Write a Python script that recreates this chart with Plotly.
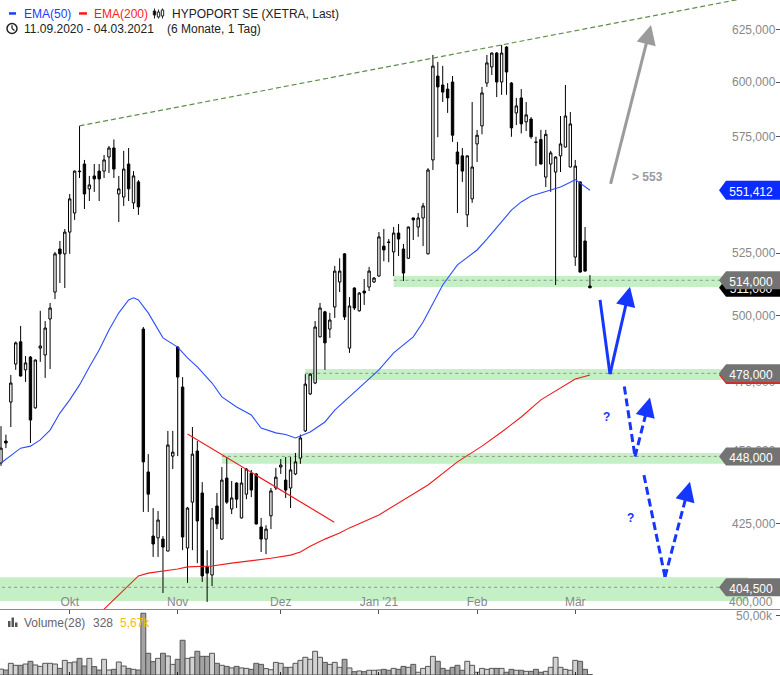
import math
import plotly.graph_objects as go

# ---------------- data ----------------
month_pos = [14, 36, 57, 77, 97, 117]
month_labels = ["Okt", "Nov", "Dez", "Jan '21", "Feb", "Mär"]

opens = [445.7, 453.4, 467.4, 481.5, 489.9, 479.3, 484.1, 465.3, 487.5, 484.9,
         498.7, 509.3, 526.7, 524.7, 533.7, 541.7, 559.7, 562.8, 552.0, 557.6,
         559.7, 559.7, 565.9, 569.9, 549.8, 548.5, 562.8, 546.0, 555.0, 494.8,
         442.6, 421.0, 420.4, 420.0, 416.1, 448.1, 487.9, 472.9, 417.1, 432.3,
         449.9, 435.4, 411.0, 408.4, 431.0, 420.0, 440.5, 430.0, 438.8, 427.0,
         435.0, 442.2, 441.9, 424.0, 420.0, 427.7, 437.1, 444.3, 439.8, 437.1,
         441.9, 447.4, 457.0, 470.4, 474.4, 491.8, 501.5, 494.8, 503.4, 513.3,
         524.7, 487.5, 510.9, 501.9, 509.7, 511.3, 513.3, 515.7, 527.9, 529.6,
         525.5, 533.3, 526.7, 522.9, 539.6, 535.8, 539.6, 524.7, 564.6, 602.8,
         598.6, 596.7, 600.0, 568.1, 566.4, 540.9, 547.7, 571.7, 579.8, 599.5,
         607.1, 613.7, 600.0, 616.6, 599.5, 585.7, 592.6, 581.6, 582.9, 572.6,
         573.7, 557.1, 562.8, 559.3, 566.4, 570.3, 561.5, 523.4, 555.0, 530.0,
         511.7]
highs = [458.7, 455.7, 477.4, 490.0, 496.0, 484.5, 484.5, 483.2, 501.9, 497.9,
         505.0, 525.5, 530.0, 535.0, 549.8, 560.0, 579.8, 564.6, 557.6, 562.8,
         562.8, 566.8, 570.8, 573.7, 557.6, 568.6, 569.9, 559.7, 555.8, 495.6,
         448.8, 430.3, 429.3, 421.0, 457.0, 457.0, 488.3, 476.6, 430.7, 458.4,
         453.4, 439.1, 416.4, 430.3, 435.4, 444.3, 447.8, 439.5, 439.0, 444.0,
         444.0, 443.3, 442.2, 427.0, 424.6, 437.1, 444.0, 447.1, 447.8, 447.8,
         449.2, 455.7, 477.7, 478.0, 497.9, 505.0, 501.9, 501.1, 519.8, 522.9,
         525.0, 507.3, 511.2, 509.3, 514.5, 519.4, 515.3, 533.7, 535.0, 530.8,
         535.8, 537.1, 528.8, 536.0, 539.8, 541.7, 546.0, 561.0, 612.8, 609.5,
         607.6, 599.5, 602.8, 572.6, 569.9, 566.6, 590.7, 578.0, 597.7, 612.8,
         614.0, 614.2, 617.6, 617.0, 600.0, 592.6, 596.7, 590.7, 583.8, 574.9,
         578.0, 578.0, 568.6, 566.2, 584.3, 598.6, 586.1, 564.6, 555.2, 535.8,
         516.1]
lows = [444.7, 450.9, 458.4, 479.3, 476.8, 474.8, 452.7, 465.0, 482.3, 476.3,
        479.6, 506.5, 512.9, 510.9, 524.7, 538.8, 556.7, 543.4, 546.8, 550.7,
        546.8, 556.7, 558.9, 556.7, 537.9, 544.7, 546.8, 543.4, 540.9, 429.0,
        429.0, 414.2, 414.2, 402.7, 416.1, 443.6, 448.1, 416.4, 405.9, 416.4,
        412.2, 406.2, 399.9, 404.9, 423.3, 419.8, 431.7, 428.3, 430.3, 426.8,
        433.3, 434.0, 424.8, 415.8, 415.1, 423.3, 436.4, 441.9, 433.7, 430.3,
        441.5, 445.4, 456.6, 470.0, 474.0, 491.6, 479.3, 491.4, 499.1, 509.3,
        498.3, 485.7, 502.2, 501.6, 504.2, 509.7, 512.9, 515.5, 521.7, 521.3,
        515.7, 523.8, 513.7, 522.7, 530.4, 531.7, 527.9, 524.5, 560.2, 574.7,
        590.7, 585.7, 572.6, 541.7, 555.0, 535.8, 546.0, 563.7, 576.0, 597.7,
        603.3, 593.0, 594.0, 594.0, 574.9, 580.2, 576.4, 577.5, 574.0, 561.9,
        562.6, 552.8, 550.7, 512.1, 559.3, 570.1, 561.3, 519.8, 517.1, 517.5,
        510.8]
closes = [450.9, 452.7, 474.4, 489.5, 477.0, 481.9, 460.9, 483.0, 488.3, 495.2,
          503.0, 524.7, 524.7, 533.7, 547.7, 559.7, 559.5, 549.8, 553.7, 556.3,
          556.3, 564.6, 569.9, 560.6, 552.0, 560.6, 552.0, 557.6, 544.3, 446.1,
          435.0, 418.4, 426.3, 417.4, 452.0, 449.5, 476.6, 420.7, 430.3, 448.8,
          426.0, 408.1, 409.0, 427.0, 425.0, 439.8, 432.3, 433.7, 433.3, 438.8,
          443.6, 436.4, 425.0, 420.0, 423.3, 436.1, 440.8, 445.0, 436.4, 443.3,
          446.1, 454.5, 474.0, 477.7, 495.6, 503.0, 489.5, 498.3, 517.7, 517.7,
          499.5, 503.8, 503.0, 508.9, 508.9, 517.7, 514.9, 531.7, 526.3, 529.4,
          533.3, 530.8, 516.9, 535.8, 538.8, 539.6, 544.7, 560.2, 607.5, 597.7,
          595.3, 592.6, 575.6, 562.8, 559.7, 566.4, 561.5, 575.6, 594.9, 609.0,
          613.7, 600.0, 613.7, 604.7, 578.9, 588.9, 580.7, 584.8, 574.9, 572.4,
          562.8, 576.0, 567.7, 565.9, 571.7, 584.3, 580.7, 561.9, 517.3, 517.7,
          511.0]
volumes = [5000, 4200, 9900, 8200, 8200, 9300, 11600, 8500, 7300, 9900,
           9900, 9300, 5600, 12400, 10400, 11000, 14100, 7600, 14100, 7100,
           4200, 13300, 4200, 4800, 11000, 7600, 5600, 4800, 4200, 52300,
           18400, 11300, 14100, 18400, 16100, 9000, 13300, 29400, 14100, 15000,
           20100, 15800, 15800, 18400, 9900, 8200, 7300, 6000, 7300, 6000,
           5600, 4800, 9900, 9000, 5400, 4500, 10700, 9900, 6500, 6500,
           9900, 12400, 15000, 13300, 20100, 15000, 10700, 9000, 10700, 6500,
           13300, 6000, 2800, 3400, 2800, 4000, 4000, 4200, 4800, 4000,
           5600, 4800, 7300, 6500, 9000, 2300, 5600, 7300, 15800, 11600,
           5600, 4000, 6500, 8200, 4000, 11600, 8200, 2300, 5600, 4800,
           5600, 5600, 5600, 2300, 4800, 4000, 4000, 3100, 3100, 4800,
           2300, 3100, 6500, 15000, 6500, 4800, 4000, 12400, 11600, 4800,
           328]

ema50_idx = [0, 4, 6, 8, 10, 12, 14, 16, 18, 20, 22, 24, 26, 27, 28, 30, 33, 36, 38,
             40, 43, 45, 48, 51, 53, 56, 58, 60, 63, 66, 68, 71, 77, 80, 82, 84, 86,
             88, 90, 93, 97, 99, 102, 104, 106, 108, 110, 112, 114, 116, 117, 118,
             119, 120]
ema50_val = [445.7, 450.9, 451.6, 453.8, 457.3, 463.4, 468.2, 473.7, 480.4, 486.8,
             494.4, 501.1, 506.2, 507.0, 506.2, 501.1, 491.4, 487.9, 483.8, 480.4,
             474.4, 469.3, 465.6, 462.7, 458.0, 456.3, 455.7, 454.5, 456.6, 460.2,
             464.5, 469.3, 479.3, 485.7, 488.7, 491.8, 497.5, 505.0, 512.1, 520.2,
             526.3, 530.8, 537.9, 542.9, 546.4, 548.9, 550.2, 551.5, 552.8, 554.9,
             556.0, 554.5, 553.0, 551.412]
ema200_idx = [20, 21, 24, 26, 28, 30, 36, 38, 43, 47, 51, 55, 59, 61, 63, 66, 69, 71,
              77, 81, 87, 93, 98, 102, 106, 110, 114, 117, 120]
ema200_val = [396.2, 397.7, 402.1, 405.2, 408.1, 409.0, 410.3, 411.0, 411.3, 412.2,
              412.9, 413.8, 414.8, 415.8, 417.7, 420.0, 422.0, 423.7, 428.0, 432.0,
              438.1, 446.1, 451.6, 456.6, 462.0, 468.2, 472.6, 475.9, 477.4]

price_ticks = [400, 425, 450, 475, 500, 525, 550, 575, 600, 625]
volume_ticks = [50000]
volume_tick_labels = ["50,00k"]
level_values = [514.0, 478.0, 448.0, 404.5]
level_labels = ["514,000", "478,000", "448,000", "404,500"]
band_lo = [511.3, 475.5, 445.4, 400.2]
band_hi = [515.7, 479.6, 449.2, 407.7]
band_start = [80, 62, 45, -1]

last_close = 511.0
last_ema50 = 551.412
last_ema200 = 477.4

green_trend_idx = [16, 150]
green_trend_val = [579.8, 639.8]
red_trend_idx = [38.0, 67.9]
red_trend_val = [455.9, 425.6]

solid_path_idx = [122.05, 124.08, 128.16]
solid_path_val = [506.2, 477.7, 511.4]
dash1_path_idx = [127.0, 129.18, 132.23]
dash1_path_val = [473.1, 447.9, 469.1]
dash2_path_idx = [131.0, 135.29, 140.38]
dash2_path_val = [441.5, 407.8, 439.2]
grey_path_idx = [124.2, 132.44]
grey_path_val = [554.2, 627.3]
target_text_pos = (128.2, 557.0)
question_idx = [123.3, 128.2]
question_val = [461.9, 427.1]

# ---------------- geometry helpers (layout only) ----------------
W, H = 780, 675
PX_PER_IDX = 4.908
PX_PER_DEC = 2951.0
X_RANGE = [-0.204, 158.72]
Y_RANGE = [2.59957, 2.80594]
PRICE_DOMAIN = [1 - 609 / H, 1]
VOL_DOMAIN = [0, 1 - 611 / H]
VOL_RANGE = [0, 54200]


def PX(x):
    return x / W


def PY(y):
    return 1 - y / H


def idx_at(px):
    return (px - 1) / PX_PER_IDX


def fmt_price(v):
    return f"{v:.3f}".replace(".", ",")


FONT = "Liberation Sans, Arial, sans-serif"
BLUE = "#1536ff"
RED = "#ee1c1c"
GREY_TAG = "#737373"
TICK_GREY = "#888888"

fig = go.Figure()

# EMA lines
fig.add_trace(go.Scatter(x=ema200_idx, y=ema200_val, mode="lines",
                         line=dict(color=RED, width=1.1), hoverinfo="skip",
                         showlegend=False))
fig.add_trace(go.Scatter(x=ema50_idx, y=ema50_val, mode="lines",
                         line=dict(color="#2c4dff", width=1.1), hoverinfo="skip",
                         showlegend=False))

# Candles
idx = list(range(len(closes)))
fig.add_trace(go.Candlestick(
    x=idx, open=opens, high=highs, low=lows, close=closes,
    increasing=dict(line=dict(color="black", width=1), fillcolor="white"),
    decreasing=dict(line=dict(color="black", width=1), fillcolor="black"),
    whiskerwidth=0, hoverinfo="skip", showlegend=False))

# Volume bars
vol_colors = ["#d2d2d2" if c >= o else "#a3a3a3" for o, c in zip(opens, closes)]
fig.add_trace(go.Bar(x=idx, y=volumes, marker=dict(color=vol_colors,
                                                   line=dict(color="#555555", width=1)),
                     width=1.0, xaxis="x2", yaxis="y2", hoverinfo="skip",
                     showlegend=False))

# Right-side tags (polygons drawn through the axes)
i_tip, i_box, i_right, i_text = idx_at(719), idx_at(726), 162, idx_at(751)
TEXT_DROP = 10 ** (2.5 / PX_PER_DEC)


def add_tag(level, color, label, half_px=9.0):
    f = 10 ** (half_px / PX_PER_DEC)
    xs = [i_tip, i_box, i_right, i_right, i_box, i_tip]
    ys = [level, level * f, level * f, level / f, level / f, level]
    fig.add_trace(go.Scatter(x=xs, y=ys, mode="lines", fill="toself",
                             fillcolor=color, line=dict(width=0, color=color),
                             hoverinfo="skip", showlegend=False))
    fig.add_trace(go.Scatter(x=[i_text], y=[level / TEXT_DROP], mode="text", text=[label],
                             textfont=dict(color="white", size=12, family=FONT),
                             hoverinfo="skip", showlegend=False))


add_tag(last_ema200, RED, fmt_price(last_ema200))
add_tag(last_close, "#000000", fmt_price(last_close))
for lv, lab in zip(level_values, level_labels):
    add_tag(lv, GREY_TAG, lab)
add_tag(last_ema50, "#0a2cff", fmt_price(last_ema50), half_px=9.5)

shapes = []
# support bands + dotted level lines
band_end = idx_at(748)
for lo, hi, st, lv in zip(band_lo, band_hi, band_start, level_values):
    shapes.append(dict(type="rect", xref="x", yref="y", x0=st, x1=band_end, y0=lo, y1=hi,
                       fillcolor="rgba(150,225,150,0.55)", line=dict(width=0), layer="below"))
    shapes.append(dict(type="line", xref="x", yref="y", x0=st, x1=idx_at(720), y0=lv, y1=lv,
                       line=dict(color="#8a9a8a", width=1, dash="dot"), layer="below"))

# trend lines
shapes.append(dict(type="line", xref="x", yref="y",
                   x0=green_trend_idx[0], x1=green_trend_idx[1],
                   y0=green_trend_val[0], y1=green_trend_val[1],
                   line=dict(color="#5f8f48", width=1.2, dash="5px,3px")))
shapes.append(dict(type="line", xref="x", yref="y",
                   x0=red_trend_idx[0], x1=red_trend_idx[1],
                   y0=red_trend_val[0], y1=red_trend_val[1],
                   line=dict(color=RED, width=1.2)))

annotations = []


def add_arrow_path(pidx, pval, color, dash, width=3, head_px=12):
    i1, v1 = pidx[-2], pval[-2]
    i2, v2 = pidx[-1], pval[-1]
    dx = (i2 - i1) * PX_PER_IDX
    dy = (math.log10(v2) - math.log10(v1)) * PX_PER_DEC
    L = math.hypot(dx, dy)
    t = head_px / L
    bi = i2 + t * (i1 - i2)
    bv = 10 ** (math.log10(v2) + t * (math.log10(v1) - math.log10(v2)))
    pts_i = list(pidx[:-1]) + [bi]
    pts_v = list(pval[:-1]) + [bv]
    for k in range(len(pts_i) - 1):
        shapes.append(dict(type="line", xref="x", yref="y",
                           x0=pts_i[k], x1=pts_i[k + 1], y0=pts_v[k], y1=pts_v[k + 1],
                           line=dict(color=color, width=width, dash=dash)))
    annotations.append(dict(x=i2, y=math.log10(v2), xref="x", yref="y",
                            ax=bi, ay=math.log10(bv), axref="x", ayref="y",
                            showarrow=True, arrowhead=2, arrowsize=1.3,
                            arrowwidth=width, arrowcolor=color, text="", standoff=0))


add_arrow_path(grey_path_idx, grey_path_val, "#9b9b9b", "solid")
add_arrow_path(solid_path_idx, solid_path_val, BLUE, "solid")
add_arrow_path(dash1_path_idx, dash1_path_val, BLUE, "8px,4px")
add_arrow_path(dash2_path_idx, dash2_path_val, BLUE, "8px,4px")

annotations.append(dict(x=target_text_pos[0], y=math.log10(target_text_pos[1]),
                        xref="x", yref="y", text="<b>&gt; 553</b>", showarrow=False,
                        xanchor="left", yanchor="middle",
                        font=dict(color="#9b9b9b", size=12, family=FONT)))
for qi, qv in zip(question_idx, question_val):
    annotations.append(dict(x=qi, y=math.log10(qv), xref="x", yref="y", text="<b>?</b>",
                            showarrow=False, xanchor="center", yanchor="middle",
                            font=dict(color=BLUE, size=12, family=FONT)))

# edge tick labels that plotly would hide at the domain borders
annotations.append(dict(x=PX(774.5), y=math.log10(price_ticks[0]), xref="paper", yref="y",
                        text=fmt_price(price_ticks[0]), showarrow=False,
                        xanchor="right", yanchor="middle",
                        font=dict(color=TICK_GREY, size=12, family=FONT)))
annotations.append(dict(x=PX(774.5), y=volume_ticks[0], xref="paper", yref="y2",
                        text=volume_tick_labels[0], showarrow=False,
                        xanchor="right", yanchor="middle",
                        font=dict(color=TICK_GREY, size=12, family=FONT)))

# header legend
shapes.append(dict(type="rect", xref="paper", yref="paper", x0=PX(9), x1=PX(16),
                   y0=PY(14.7), y1=PY(12.2), fillcolor="#1a3cff", line=dict(width=0)))
shapes.append(dict(type="rect", xref="paper", yref="paper", x0=PX(79), x1=PX(87),
                   y0=PY(14.7), y1=PY(12.2), fillcolor="#ff1a1a", line=dict(width=0)))
# candle icon
for cx, top, bot, b0, b1, fill in [(154.5, 8.5, 18.5, 11, 15, "black"),
                                   (158.5, 9.5, 18.5, 12, 17, "white"),
                                   (162.5, 8.5, 18.5, 10, 16, "white")]:
    shapes.append(dict(type="line", xref="paper", yref="paper", x0=PX(cx), x1=PX(cx),
                       y0=PY(bot), y1=PY(top), line=dict(color="#222", width=1)))
    shapes.append(dict(type="rect", xref="paper", yref="paper", x0=PX(cx - 1.2),
                       x1=PX(cx + 1.2), y0=PY(b1), y1=PY(b0), fillcolor=fill,
                       line=dict(color="#222", width=1)))
# clock icon
shapes.append(dict(type="circle", xref="paper", yref="paper", x0=PX(7), x1=PX(17),
                   y0=PY(33.5), y1=PY(23.5), line=dict(color="#222", width=1.5)))
shapes.append(dict(type="line", xref="paper", yref="paper", x0=PX(12), x1=PX(12),
                   y0=PY(28.5), y1=PY(25.2), line=dict(color="#222", width=1.3)))
shapes.append(dict(type="line", xref="paper", yref="paper", x0=PX(12), x1=PX(14.5),
                   y0=PY(28.5), y1=PY(30.5), line=dict(color="#222", width=1.3)))
# volume icon
for bx, btop in [(8, 621), (11.5, 617.5), (15, 622.5)]:
    shapes.append(dict(type="rect", xref="paper", yref="paper", x0=PX(bx), x1=PX(bx + 2.5),
                       y0=PY(627), y1=PY(btop), fillcolor="#555", line=dict(width=0)))

for txt, x, y, col in [("EMA(50)", 22.5, 13.5, "#1a3cff"),
                       ("EMA(200)", 92.5, 13.5, "#ff1a1a"),
                       ("HYPOPORT SE (XETRA, Last)", 170.5, 13.5, "#222222"),
                       ("11.09.2020 - 04.03.2021", 22.5, 29, "#222222"),
                       ("(6 Monate, 1 Tag)", 165.5, 29, "#222222"),
                       ("Volume(28)", 22.5, 622.5, "#666666"),
                       ("328", 91.5, 622.5, "#666666"),
                       ("5,67k", 118.5, 622.5, "#f2c200")]:
    annotations.append(dict(x=PX(x), y=PY(y), xref="paper", yref="paper", text=txt,
                            showarrow=False, xanchor="left", yanchor="middle",
                            font=dict(color=col, size=12, family=FONT), borderpad=0))

price_ticktext = [fmt_price(v) for v in price_ticks]
price_ticktext[0] = ""

fig.update_layout(
    width=W, height=H, margin=dict(l=0, r=0, t=0, b=0),
    paper_bgcolor="white", plot_bgcolor="white",
    font=dict(family=FONT, size=12, color=TICK_GREY),
    showlegend=False, shapes=shapes, annotations=annotations,
    xaxis=dict(domain=[0, 1], range=X_RANGE, anchor="y",
               tickvals=month_pos, ticktext=month_labels,
               ticklabelposition="inside", ticks="outside", ticklen=4,
               tickcolor="#555", showgrid=False, zeroline=False,
               showline=True, linecolor="#8a8a8a", linewidth=1,
               tickfont=dict(color=TICK_GREY, size=12, family=FONT),
               rangeslider=dict(visible=False), fixedrange=True),
    yaxis=dict(domain=PRICE_DOMAIN, type="log", range=Y_RANGE, side="right",
               tickvals=price_ticks, ticktext=price_ticktext,
               ticklabelposition="inside", ticks="inside", ticklen=4, tickcolor="#555",
               showgrid=False, zeroline=False, showline=False, layer="below traces",
               tickfont=dict(color=TICK_GREY, size=12, family=FONT)),
    xaxis2=dict(domain=[0, 1], range=X_RANGE, anchor="y2", matches="x",
                tickvals=month_pos, showticklabels=False, ticks="inside", ticklen=3,
                tickcolor="#222", showgrid=False, zeroline=False, showline=False),
    yaxis2=dict(domain=VOL_DOMAIN, range=VOL_RANGE, side="right",
                tickvals=volume_ticks, ticktext=[""], ticklabelposition="inside",
                ticks="inside", ticklen=4, tickcolor="#555", showgrid=False,
                zeroline=False, showline=False,
                tickfont=dict(color=TICK_GREY, size=12, family=FONT)),
)

fig.write_html("out.html", config={"displayModeBar": False},
               post_script="document.body.style.margin='0px';"
                           "document.body.style.padding='0px';"
                           "document.body.style.overflow='hidden';")
